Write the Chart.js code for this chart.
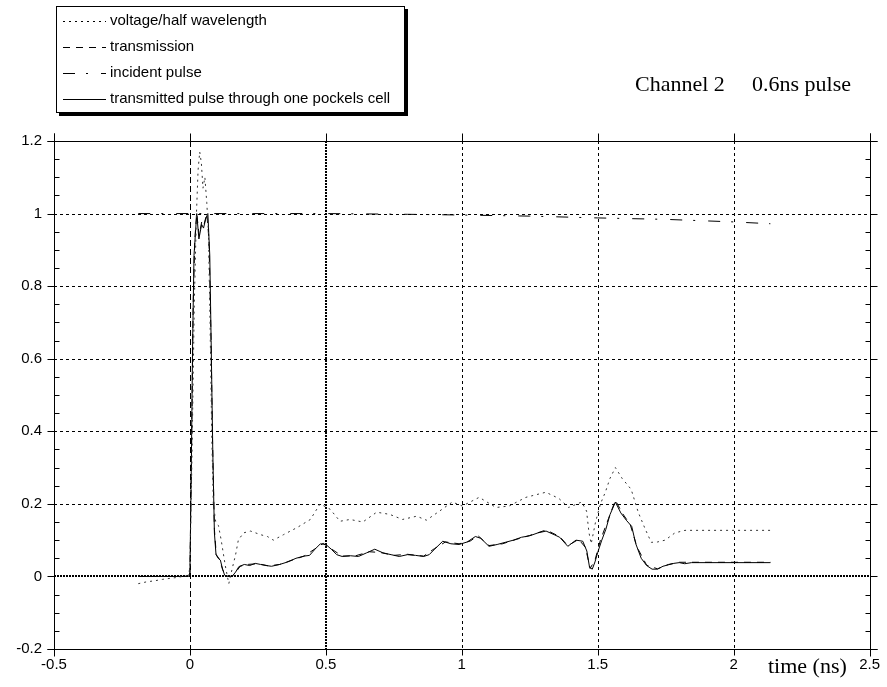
<!DOCTYPE html>
<html lang="en">
<head>
<meta charset="UTF-8">
<title>Channel 2 - 0.6ns pulse</title>
<script src="https://cdn.jsdelivr.net/npm/chart.js"></script>
<style>
  body { margin: 0; background: #fff; }
</style>
</head>
<body>
<canvas id="pulseChart" width="887" height="687"></canvas>

<script>
// time in ns, values normalised
const xTickValues = [-0.5, 0, 0.5, 1, 1.5, 2, 2.5];
const yTickValues = [-0.2, 0, 0.2, 0.4, 0.6, 0.8, 1, 1.2];

const seriesLabels = [
  'voltage/half wavelength',
  'transmission',
  'incident pulse',
  'transmitted pulse through one pockels cell'
];

const voltage = [
  [-0.19,-0.02],[-0.16,-0.015],[-0.13,-0.012],[-0.1,-0.008],[-0.07,-0.005],[-0.04,-0.002],[-0.01,0.003],
  [0,0.02],[0.008,0.35],[0.016,0.75],[0.024,1.0],[0.03,1.12],[0.036,1.17],[0.042,1.14],[0.048,1.07],
  [0.055,1.1],[0.062,1.03],[0.068,0.95],[0.074,0.7],[0.08,0.4],[0.086,0.2],[0.095,0.15],[0.105,0.14],
  [0.115,0.1],[0.13,0.03],[0.143,-0.02],[0.155,0.02],[0.168,0.06],[0.178,0.1],[0.197,0.12],[0.223,0.125],
  [0.26,0.115],[0.285,0.11],[0.307,0.1],[0.344,0.115],[0.395,0.135],[0.443,0.157],[0.479,0.2],[0.516,0.185],
  [0.552,0.152],[0.589,0.157],[0.636,0.15],[0.687,0.177],[0.735,0.171],[0.782,0.157],[0.834,0.166],[0.87,0.155],
  [0.918,0.18],[0.965,0.205],[1.002,0.194],[1.064,0.218],[1.126,0.19],[1.174,0.194],[1.236,0.218],[1.309,0.232],
  [1.357,0.215],[1.393,0.19],[1.441,0.205],[1.459,0.18],[1.468,0.12],[1.476,0.09],[1.492,0.15],[1.51,0.2],
  [1.528,0.232],[1.545,0.27],[1.565,0.3],[1.59,0.27],[1.623,0.24],[1.649,0.177],[1.675,0.13],[1.697,0.094],
  [1.72,0.095],[1.748,0.1],[1.784,0.12],[1.821,0.127],[2.135,0.127]
];

const transmission = [
  [-0.19,0],[-0.005,0],[0,0.01],[0.006,0.35],[0.012,0.75],[0.018,0.93],[0.025,1.0],[0.034,0.94],
  [0.044,0.98],[0.052,0.97],[0.062,1.0],[0.07,0.93],[0.077,0.68],[0.083,0.38],[0.09,0.13],[0.097,0.06],
  [0.108,0.048],[0.12,0.02],[0.13,0.002],[0.155,0],[0.17,0.013],[0.185,0.028],[0.21,0.033],[0.25,0.035],
  [0.29,0.029],[0.33,0.033],[0.38,0.046],[0.42,0.056],[0.46,0.076],[0.49,0.091],[0.52,0.076],[0.56,0.056],
  [0.61,0.057],[0.66,0.068],[0.7,0.066],[0.75,0.058],[0.8,0.061],[0.86,0.056],[0.9,0.077],[0.94,0.095],
  [0.99,0.09],[1.03,0.097],[1.06,0.112],[1.1,0.085],[1.15,0.09],[1.2,0.102],[1.25,0.113],[1.31,0.128],
  [1.36,0.11],[1.39,0.085],[1.43,0.102],[1.455,0.08],[1.472,0.022],[1.49,0.045],[1.51,0.1],[1.54,0.16],
  [1.565,0.21],[1.59,0.175],[1.62,0.142],[1.645,0.08],[1.68,0.031],[1.72,0.021],[1.76,0.033],[1.8,0.039],
  [1.845,0.039],[2.135,0.039]
];

const incident = [
  [-0.19,1.0],[0.5,1.0],[0.8,0.998],[1.0,0.996],[1.25,0.993],[1.5,0.988],[1.75,0.984],[2.0,0.977],[2.135,0.972]
];

const transmitted = [
  [-0.19,0],[-0.005,0],[0,0.01],[0.005,0.3],[0.01,0.65],[0.015,0.885],[0.025,1.0],[0.033,0.93],[0.043,0.97],
  [0.05,0.96],[0.058,0.985],[0.066,1.0],[0.073,0.885],[0.078,0.65],[0.084,0.35],[0.09,0.12],[0.096,0.06],
  [0.104,0.05],[0.112,0.045],[0.12,0.02],[0.128,0.003],[0.14,0],[0.155,0],[0.168,0.012],[0.18,0.027],
  [0.2,0.033],[0.22,0.03],[0.24,0.036],[0.26,0.033],[0.28,0.03],[0.3,0.028],[0.33,0.033],[0.36,0.04],
  [0.39,0.05],[0.42,0.056],[0.44,0.058],[0.46,0.075],[0.48,0.09],[0.5,0.088],[0.52,0.075],[0.54,0.06],
  [0.56,0.055],[0.59,0.057],[0.62,0.055],[0.65,0.065],[0.68,0.075],[0.71,0.065],[0.74,0.06],[0.77,0.055],
  [0.8,0.06],[0.83,0.058],[0.86,0.055],[0.88,0.06],[0.9,0.075],[0.93,0.097],[0.96,0.09],[0.99,0.088],
  [1.02,0.095],[1.05,0.11],[1.07,0.105],[1.1,0.083],[1.13,0.088],[1.16,0.094],[1.19,0.1],[1.22,0.108],
  [1.25,0.112],[1.28,0.12],[1.31,0.125],[1.34,0.115],[1.36,0.108],[1.39,0.083],[1.42,0.1],[1.445,0.097],
  [1.46,0.07],[1.47,0.025],[1.48,0.02],[1.49,0.04],[1.5,0.066],[1.515,0.1],[1.53,0.13],[1.545,0.17],
  [1.565,0.205],[1.585,0.175],[1.605,0.155],[1.625,0.138],[1.64,0.09],[1.66,0.05],[1.68,0.03],[1.7,0.02],
  [1.72,0.02],[1.74,0.028],[1.76,0.032],[1.78,0.036],[1.8,0.038],[1.82,0.035],[1.845,0.038],[2.135,0.038]
];

const toPoints = arr => arr.map(p => ({x: p[0], y: p[1]}));

function series(label, arr, dash, colour) {
  return {
    label: label,
    data: toPoints(arr),
    borderColor: colour,
    borderWidth: 1,
    borderDash: dash,
    pointRadius: 0,
    tension: 0,
    fill: false
  };
}

const sansFont = '"Liberation Sans", Arial, sans-serif';
const serifFont = '"Liberation Serif", "Times New Roman", serif';

function strokeLine(ctx, x1, y1, x2, y2) {
  ctx.beginPath();
  ctx.moveTo(x1, y1);
  ctx.lineTo(x2, y2);
  ctx.stroke();
}

// grid, frame, minor ticks, legend box and the free texts
const framePlugin = {
  id: 'framePlugin',
  beforeDatasetsDraw(chart) {
    const {ctx, chartArea: a, scales: {x, y}} = chart;
    ctx.save();
    ctx.strokeStyle = '#000';
    yTickValues.forEach(v => {
      if (v === yTickValues[0] || v === yTickValues[yTickValues.length - 1]) return;
      if (v === 0) {
        const p = Math.round(y.getPixelForValue(v));
        ctx.lineWidth = 2;
        ctx.setLineDash([2, 1]);
        strokeLine(ctx, a.left, p, a.right, p);
      } else {
        const p = Math.round(y.getPixelForValue(v)) + 0.5;
        ctx.lineWidth = 1;
        ctx.setLineDash([3, 3]);
        strokeLine(ctx, a.left, p, a.right, p);
      }
    });
    xTickValues.forEach(v => {
      if (v === xTickValues[0] || v === xTickValues[xTickValues.length - 1]) return;
      if (v === 0.5) {
        const p = Math.round(x.getPixelForValue(v));
        ctx.lineWidth = 2;
        ctx.setLineDash([2, 1]);
        strokeLine(ctx, p, a.top, p, a.bottom);
      } else {
        const p = Math.round(x.getPixelForValue(v)) + 0.5;
        ctx.lineWidth = 1;
        ctx.setLineDash(v === 0 ? [6, 3] : [3, 3]);
        strokeLine(ctx, p, a.top, p, a.bottom);
      }
    });
    ctx.restore();
  },
  afterDatasetsDraw(chart) {
    const {ctx, chartArea: a, scales: {x, y}} = chart;
    const L = Math.round(a.left) + 0.5, R = Math.round(a.right) + 0.5;
    const T = Math.round(a.top) + 0.5, B = Math.round(a.bottom) + 0.5;
    ctx.save();
    ctx.strokeStyle = '#000';
    ctx.lineWidth = 1;
    ctx.setLineDash([]);
    // frame, axes poke out past the corners
    strokeLine(ctx, L - 7, T, R + 7, T);
    strokeLine(ctx, L - 7, B, R + 7, B);
    strokeLine(ctx, L, T - 8, L, B + 7);
    strokeLine(ctx, R, T - 8, R, B + 7);
    // y major ticks outward
    yTickValues.forEach(v => {
      const p = Math.round(y.getPixelForValue(v)) + 0.5;
      strokeLine(ctx, L - 7, p, L, p);
      strokeLine(ctx, R, p, R + 7, p);
    });
    // y minor ticks inward, 0.05 apart
    for (let k = -4; k <= 24; k++) {
      if (k % 4 === 0) continue;
      const p = Math.round(y.getPixelForValue(k * 0.05)) + 0.5;
      strokeLine(ctx, L, p, L + 5, p);
      strokeLine(ctx, R - 5, p, R, p);
    }
    // x major ticks above the top and below the bottom
    xTickValues.forEach(v => {
      const p = Math.round(x.getPixelForValue(v)) + 0.5;
      strokeLine(ctx, p, T - 8, p, T);
      strokeLine(ctx, p, B, p, B + 6);
    });
    ctx.restore();
  },
  afterDraw(chart) {
    const ctx = chart.ctx;
    ctx.save();
    // legend box with drop shadow
    ctx.fillStyle = '#000';
    ctx.fillRect(59, 9, 349, 107);
    ctx.fillStyle = '#fff';
    ctx.fillRect(56, 6, 349, 107);
    ctx.strokeStyle = '#000';
    ctx.lineWidth = 1;
    ctx.strokeRect(56.5, 6.5, 348, 106);

    ctx.font = '15px ' + sansFont;
    ctx.textBaseline = 'middle';
    ctx.textAlign = 'left';
    ctx.fillStyle = '#000';
    chart.data.datasets.forEach((ds, i) => {
      const yy = 21 + i * 26;
      ctx.strokeStyle = '#000';
      ctx.setLineDash(ds.borderDash || []);
      strokeLine(ctx, 63, yy + 0.5, 106, yy + 0.5);
      ctx.fillText(ds.label, 110, yy);
    });

    // header and axis caption
    ctx.font = '22px ' + serifFont;
    ctx.textBaseline = 'alphabetic';
    ctx.fillText('Channel 2', 635, 91);
    ctx.fillText('0.6ns pulse', 752, 91);
    ctx.textBaseline = 'middle';
    ctx.fillText('time (ns)', 768, 667);
    ctx.restore();
  }
};

new Chart(document.getElementById('pulseChart'), {
  type: 'line',
  data: {
    datasets: [
      series(seriesLabels[0], voltage, [2, 4], '#333'),
      series(seriesLabels[1], transmission, [7, 6], '#000'),
      series(seriesLabels[2], incident, [12, 11, 2, 13], '#000'),
      series(seriesLabels[3], transmitted, [], '#000')
    ]
  },
  options: {
    responsive: false,
    animation: false,
    layout: { padding: { top: 141, right: 16, left: 0, bottom: 0 } },
    plugins: {
      legend: { display: false },
      title: { display: false },
      tooltip: { enabled: false }
    },
    scales: {
      x: {
        type: 'linear',
        min: -0.5,
        max: 2.5,
        afterBuildTicks: s => { s.ticks = xTickValues.map(v => ({value: v})); },
        afterFit: s => { s.height = 38; },
        grid: { display: false, drawTicks: false },
        border: { display: false },
        ticks: {
          padding: 7,
          maxRotation: 0,
          color: '#000',
          font: { family: sansFont, size: 15 },
          callback: v => String(v)
        }
      },
      y: {
        type: 'linear',
        min: -0.2,
        max: 1.2,
        afterBuildTicks: s => { s.ticks = yTickValues.map(v => ({value: v})); },
        afterFit: s => { s.width = 54; },
        grid: { display: false, drawTicks: false },
        border: { display: false },
        ticks: {
          padding: 12,
          color: '#000',
          font: { family: sansFont, size: 15 },
          callback: v => String(v)
        }
      }
    }
  },
  plugins: [framePlugin]
});
</script>
</body>
</html>
